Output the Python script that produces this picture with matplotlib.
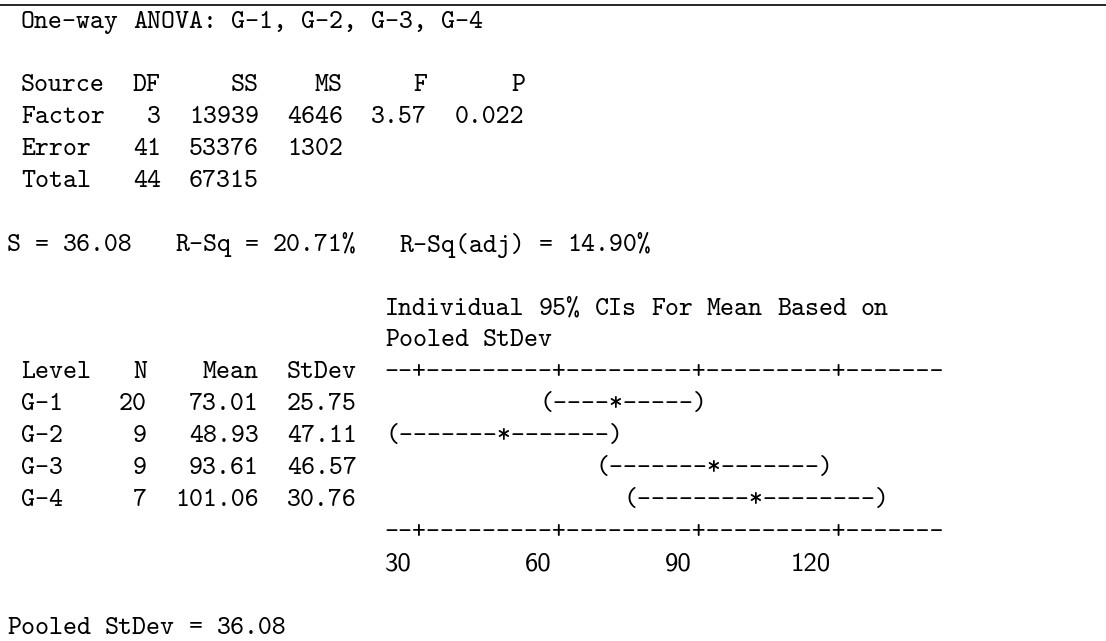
import os
import re

import matplotlib as mpl
from matplotlib import font_manager as fm
from matplotlib import pyplot as plt

# %%
groups = ["G-1", "G-2", "G-3", "G-4"]
n_obs = [20, 9, 9, 7]
means = [73.01, 48.93, 93.61, 101.06]
stdevs = [25.75, 47.11, 46.57, 30.76]

sources = ["Factor", "Error", "Total"]
dfs = [3, 41, 44]
ss = [13939, 53376, 67315]
ms = [4646, 1302]
f_stat = 3.57
p_value = 0.022

pooled_sd = 36.08
r_sq = 20.71
r_sq_adj = 14.90
t_crit = 2.0195  # t(0.975, 41)

axis_ticks = [30, 60, 90, 120]

# %%
# character grid (monospace session window)
pitch = 14.0
x0 = 7.0
y0 = 22.0
lead = 31.9
fsize = pitch / 0.525 * 0.72

ttf = os.path.join(mpl.get_data_path(), "fonts", "ttf")
mono = fm.FontProperties(fname=os.path.join(ttf, "cmtt10.ttf"), size=fsize)
sans = fm.FontProperties(fname=os.path.join(ttf, "cmss10.ttf"), size=fsize)

# interval plot scale: tick value -> column
tick_col0, col_per_tick = 29, 10
units_per_col = (axis_ticks[1] - axis_ticks[0]) / col_per_tick


def to_col(v):
    return int(round(tick_col0 + (v - axis_ticks[0]) / units_per_col))


def ci_row(m, n):
    half = t_crit * pooled_sd / n ** 0.5
    lo, mid, hi = to_col(m - half), to_col(m), to_col(m + half)
    s = [" "] * (hi + 1)
    for c in range(lo + 1, hi):
        s[c] = "-"
    s[lo], s[mid], s[hi] = "(", "*", ")"
    return "".join(s)


axis = [" "] * 67
for c in range(27, 67):
    axis[c] = "-"
for t in axis_ticks:
    axis[to_col(t)] = "+"
axis = "".join(axis)

lines = {}
lines[0] = " One-way ANOVA: " + ", ".join(groups)
lines[2] = f" {'Source':<6}  {'DF':>2}  {'SS':>5}  {'MS':>4}  {'F':>4}  {'P':>5}"
for i, src in enumerate(sources):
    row = f" {src:<6}  {dfs[i]:>2}  {ss[i]:>5}"
    if i < len(ms):
        row += f"  {ms[i]:>4}"
    if i == 0:
        row += f"  {f_stat:>4.2f}  {p_value:>5.3f}"
    lines[3 + i] = row
lines[7] = f"S = {pooled_sd:.2f}   R-Sq = {r_sq:.2f}%   R-Sq(adj) = {r_sq_adj:.2f}%"
lines[9] = " " * 27 + "Individual 95% CIs For Mean Based on"
lines[10] = " " * 27 + "Pooled StDev"
row = f" {'Level':<5}  {'N':>2}  {'Mean':>6}  {'StDev':>5}"
lines[11] = row + axis[len(row):]
for i, g in enumerate(groups):
    row = f" {g:<5}  {n_obs[i]:>2}  {means[i]:>6.2f}  {stdevs[i]:>5.2f}"
    ci = ci_row(means[i], n_obs[i])
    lines[12 + i] = row + ci[len(row):]
lines[16] = axis
lines[19] = f"Pooled StDev = {pooled_sd:.2f}"

# %%
fig = plt.figure(figsize=(11.06, 6.41), dpi=100)
ax = fig.add_axes([0, 0, 1, 1])
ax.set_xlim(0, 1106)
ax.set_ylim(641, 0)
ax.axis("off")

ax.plot([0, 1106], [5, 5], color="black", lw=1.2)

for k, text in lines.items():
    y = y0 + k * lead
    for m in re.finditer(r"\S+", text):
        ax.text(x0 + m.start() * pitch, y, m.group(), fontproperties=mono,
                ha="left", va="center", color="black")

for t in axis_ticks:
    lab = str(t)
    ax.text(x0 + (to_col(t) - len(lab)) * pitch, y0 + 17 * lead, lab,
            fontproperties=sans, ha="left", va="center", color="black")

plt.savefig("out.png", dpi=100)
